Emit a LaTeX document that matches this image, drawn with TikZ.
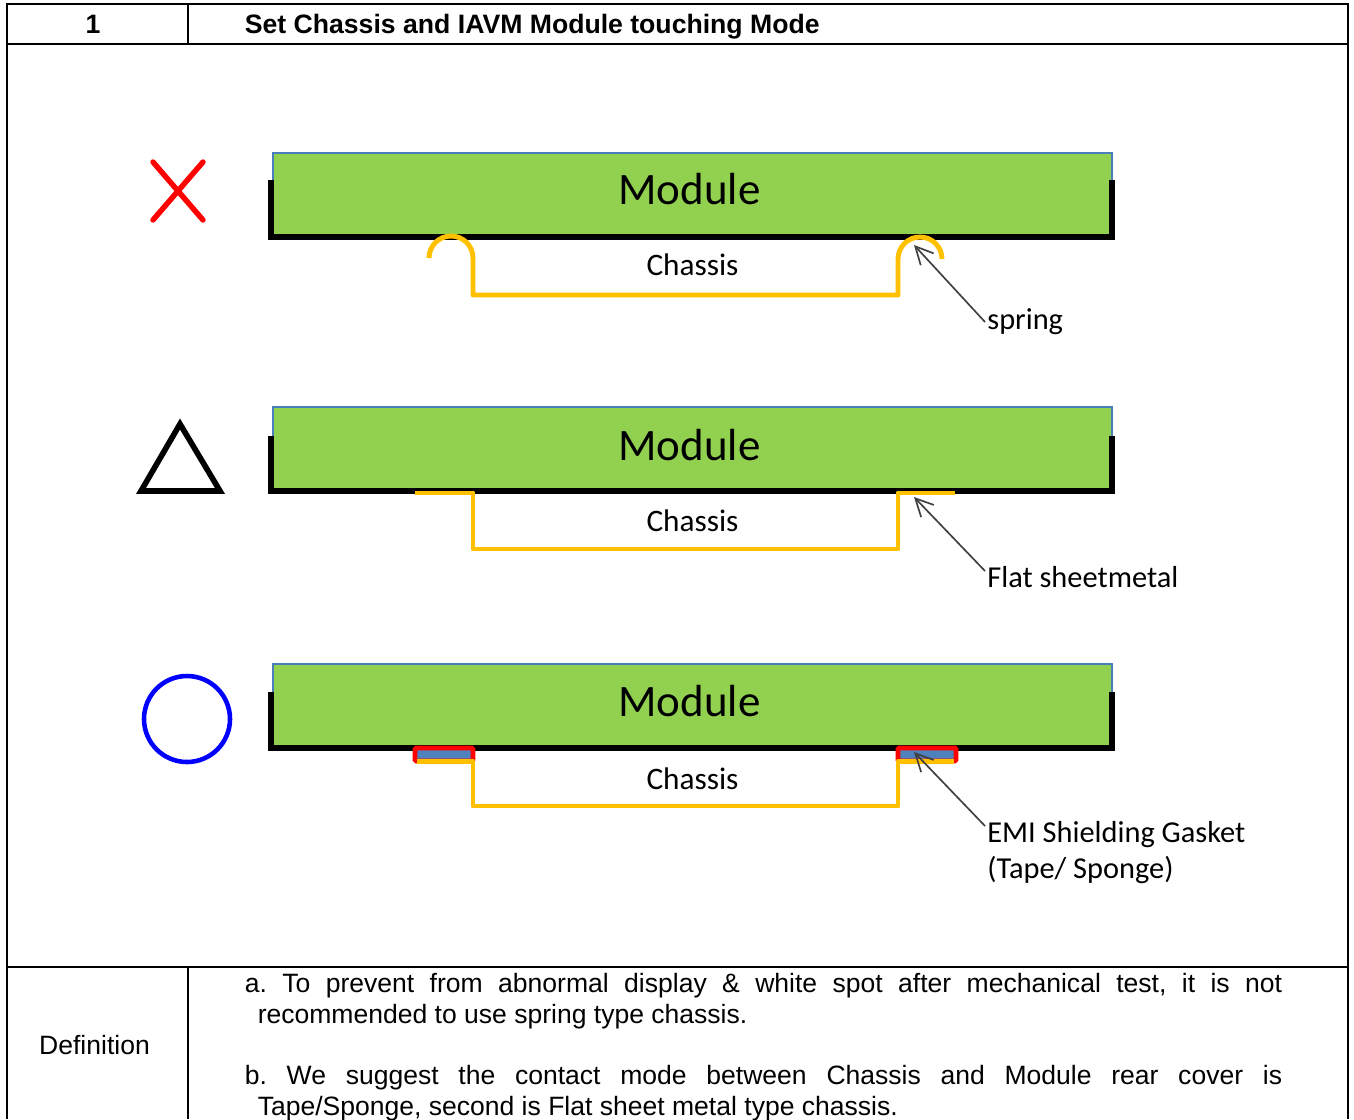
\documentclass[tikz,border=0pt]{standalone}
\usepackage{fontspec}
\setmainfont{Liberation Sans}
\newfontfamily\labelfont{Carlito}
\usetikzlibrary{arrows.meta}
\definecolor{modulegreen}{HTML}{92D050}
\definecolor{moduleedge}{HTML}{4A7EBB}
\definecolor{chassisyellow}{HTML}{FFC000}
\definecolor{gasketblue}{HTML}{4F81BD}
\tikzset{
  rule/.style={line width=1.1pt},
  modulebox/.style={fill=modulegreen,draw=moduleedge,line width=0.6pt},
  rearcover/.style={line width=2.9pt,line join=miter},
  chassisline/.style={draw=chassisyellow,line width=2.8pt,line join=round},
  gasket/.style={fill=gasketblue,draw=red,line width=2.6pt,rounded corners=0.6pt},
  leader/.style={draw=black!75,line width=0.95pt,-{Straight Barb[length=10pt,width=10pt,line width=0.95pt]}},
  moduletext/.style={font=\labelfont\fontsize{25.6}{30}\selectfont,inner sep=0pt},
  chassistext/.style={font=\labelfont\fontsize{17.8}{21}\selectfont,inner sep=0pt},
  calloutlabel/.style={font=\labelfont\fontsize{17.3}{20.7}\selectfont,inner sep=0pt,anchor=west,align=left},
  celltext/.style={font=\fontsize{15.1}{17.45}\selectfont,inner sep=0pt},
  headtext/.style={font=\bfseries\fontsize{15.15}{17.3}\selectfont,inner sep=0pt},
}
\begin{document}
\begin{tikzpicture}[x=0.02cm,y=-0.02cm]
\useasboundingbox (0,0) rectangle (1354,1119);
\fill[white] (0,0) rectangle (1354,1119);

% tabela
\draw[rule] (7,1119) -- (7,4) -- (1348,4) -- (1348,1119);
\draw[rule] (7,44) -- (1348,44);
\draw[rule] (7,967) -- (1348,967);
\draw[rule] (188,4) -- (188,44);
\draw[rule] (188,967) -- (188,1119);
\node[headtext] (num) at (93,24) {1};
\node[headtext,anchor=base west] (title) at (244.5,33.5) {Set Chassis and IAVM Module touching Mode};
\node[celltext] (def) at (94.5,1045) {Definition};
\node[celltext,anchor=north west,text width=20.75cm,align=justify] (notes) at (244.5,973) {%
  \frenchspacing\hyphenpenalty=10000
  \hangindent=7.35pt\hangafter=1\leavevmode a. To prevent from abnormal display \& white spot after mechanical test, it is not\linebreak recommended to use spring type chassis.\par
  \vskip17.45pt
  \hangindent=7.35pt\hangafter=1\leavevmode b. We suggest the contact mode between Chassis and Module rear cover is\linebreak Tape/Sponge, second is Flat sheet metal type chassis.\par};

% modulos
\foreach \n/\y/\t/\c in {a/0/0/0, b/254/256/256, c/511/512/514} {
  \begin{scope}[yshift=-\y*0.02cm]
    \draw[modulebox] (273,153) rectangle (1112,236);
    \draw[rearcover] (271,{180+\t-\y}) -- (271,237) -- (1112,237) -- (1112,{180+\t-\y});
    \node[moduletext] (module\n) at (689.5,{189+\t-\y}) {Module};
    \node[chassistext] (chassis\n) at (692.5,{265+\c-\y}) {Chassis};
  \end{scope}
}

% simbolos
\draw[red,line width=3.1pt,line cap=round] (153,162) -- (203,220) (203,162) -- (153,220);
\draw[black,line width=3.2pt,line join=miter] (180,424) -- (220,491) -- (141,491) -- cycle;
\draw[blue,line width=2.6pt] (187,719) circle (43);

% mola
\draw[chassisline] (429,258) arc[start angle=180,end angle=360,radius=22] -- (473,295) -- (898,295) -- (898,259) arc[start angle=180,end angle=360,radius=22];

% chapa plana
\draw[chassisline] (415,493) -- (473,493) -- (473,549) -- (898,549) -- (898,493) -- (955,493);

% gaxeta
\draw[gasket] (415,748) rectangle (473,761);
\draw[gasket] (898,748) rectangle (956,761);
\draw[chassisline] (417,761.5) -- (473,761.5) -- (473,806) -- (898,806) -- (898,761.5) -- (954,761.5);

% rotulos
\node[calloutlabel] (spring) at (987,322) {spring};
\node[calloutlabel] (flat) at (987,577) {Flat sheetmetal};
\node[calloutlabel,anchor=north west] (emi) at (987,821) {EMI Shielding Gasket\\(Tape/ Sponge)};
\coordinate (springtip) at (914,245);
\coordinate (flattip) at (914,497);
\coordinate (emitip) at (914,752);
\coordinate (springtail) at (985,322);
\coordinate (flattail) at (985,571);
\coordinate (emitail) at (985,826);
\draw[leader] (springtail) -- (springtip);
\draw[leader] (flattail) -- (flattip);
\draw[leader] (emitail) -- (emitip);
\end{tikzpicture}
\end{document}
